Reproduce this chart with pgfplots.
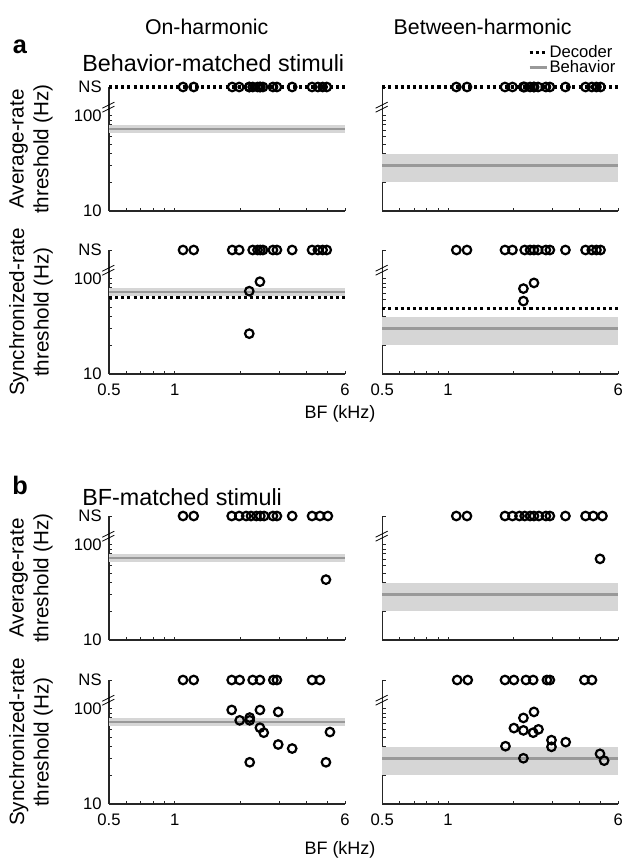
\documentclass[border=0pt]{standalone}
\usepackage{fontspec}
\setmainfont{Liberation Sans}
\usepackage{pgfplots}
\pgfplotsset{compat=1.18}

\definecolor{bandgray}{HTML}{D6D6D6}
\definecolor{linegray}{HTML}{999999}
\newcommand{\tf}[1]{\mbox{\fontsize{12.5}{14}\selectfont #1}}

\pgfplotsset{
  thrax/.style={
    scale only axis, width=177pt, height=93pt, anchor=south west,
    xmin=0.5, xmax=6, ymin=10, ymax=200,
    axis x line*=bottom, axis y line*=left,
    axis line style={line width=0.9pt, black!85},
    xtick={0.5,1,6}, minor xtick={0.6,0.7,0.8,0.9,2,3,4,5},
    ytick={10,100,200}, minor ytick={20,30,40,50,60,70,80,90},
    yticklabels={\tf{10},\tf{100},\tf{NS}}, xticklabels={},
    tick align=inside, major tick length=2.5pt, minor tick length=2.5pt,
    tick style={line width=0.7pt, black!85},
    xticklabel style={yshift=-4pt},
    yticklabel style={xshift=-2pt},
    /pgf/number format/assume math mode=true,
    clip=false,
  },
  thrbot/.style={xticklabels={\tf{0.5},\tf{1},\tf{6}}},
  thrright/.style={yticklabels={}},
}
\tikzset{
  behband/.style={draw=none, fill=bandgray},
  behline/.style={linegray, line width=2.2pt},
  decline/.style={black, line width=2.3pt, dash pattern=on 2.3pt off 2.3pt},
  cellpts/.style={only marks, mark=o, mark size=3.2pt, black, mark options={line width=1.65pt}},
}
\newcommand{\brk}{\draw[line width=0.6pt] (axis cs:0.5,118) ++(-5pt,-2.5pt) -- ++(9pt,4.5pt);
  \draw[line width=0.6pt] (axis cs:0.5,118) ++(-5pt,0.5pt) -- ++(9pt,4.5pt);}
\newcommand{\onbeh}{\addplot[behband, forget plot] coordinates {(0.5,66) (6,66) (6,80) (0.5,80)} -- cycle;
  \addplot[behline, forget plot] coordinates {(0.5,72.5) (6,72.5)};}
\newcommand{\btbeh}{\addplot[behband, forget plot] coordinates {(0.5,20) (6,20) (6,40) (0.5,40)} -- cycle;
  \addplot[behline, forget plot] coordinates {(0.5,30) (6,30)};}

\begin{document}
\begin{tikzpicture}
\path[use as bounding box] (0,0) rectangle (466.5pt,-647.25pt);

% ---------- a: behavior-matched ----------
\begin{axis}[xmode=log, ymode=log, thrax, at={(81.75pt,-158.25pt)}]
\onbeh
\addplot[decline, forget plot] coordinates {(0.5,200) (6,200)};
\addplot[cellpts, forget plot] coordinates {(1.09,200) (1.22,200) (1.83,200) (1.97,200) (2.19,200) (2.19,200)
  (2.27,200) (2.39,200) (2.45,200) (2.46,200) (2.53,200) (2.81,200) (2.93,200) (3.44,200)
  (4.24,200) (4.51,200) (4.74,200) (4.95,200)};
\brk
\end{axis}

\begin{axis}[xmode=log, ymode=log, thrax, thrright, at={(286.7pt,-158.25pt)},
  legend style={at={(1,1)}, anchor=south east, xshift=-1pt, yshift=8pt, draw=none, fill=none,
    font=\fontsize{12.5}{13.5}\selectfont, inner sep=0pt, row sep=-1.5pt,
    nodes={inner sep=1pt}},
  legend cell align=left,
  legend image code/.code={\draw[#1] (0cm,0cm) -- (0.45cm,0cm);}]
\addlegendimage{decline}
\addlegendentry{Decoder}
\addlegendimage{behline}
\addlegendentry{Behavior}
\btbeh
\addplot[decline, forget plot] coordinates {(0.5,200) (6,200)};
\addplot[cellpts, forget plot] coordinates {(1.09,200) (1.22,200) (1.82,200) (1.97,200) (2.21,200) (2.21,200)
  (2.24,200) (2.37,200) (2.47,200) (2.47,200) (2.58,200) (2.80,200) (2.92,200) (3.44,200)
  (4.25,200) (4.54,200) (4.77,200) (4.98,200)};
\brk
\end{axis}

\begin{axis}[xmode=log, ymode=log, thrax, thrbot, at={(81.75pt,-280.5pt)}]
\onbeh
\addplot[decline, forget plot] coordinates {(0.5,64) (6,64)};
\addplot[cellpts, forget plot] coordinates {(1.09,200) (1.22,200) (1.83,200) (1.97,200) (2.27,200) (2.39,200)
  (2.46,200) (2.53,200) (2.81,200) (2.93,200) (3.44,200) (4.24,200) (4.51,200) (4.74,200)
  (4.95,200)};
\addplot[cellpts, forget plot] coordinates {(2.19,74) (2.45,93) (2.19,26.5)};
\brk
\end{axis}

\begin{axis}[xmode=log, ymode=log, thrax, thrbot, thrright, at={(286.7pt,-280.5pt)}]
\btbeh
\addplot[decline, forget plot] coordinates {(0.5,48.4) (6,48.4)};
\addplot[cellpts, forget plot] coordinates {(1.09,200) (1.22,200) (1.82,200) (1.97,200) (2.24,200) (2.37,200)
  (2.47,200) (2.58,200) (2.80,200) (2.92,200) (3.44,200) (4.25,200) (4.54,200) (4.77,200)
  (4.98,200)};
\addplot[cellpts, forget plot] coordinates {(2.21,78.7) (2.47,90.3) (2.21,58.2)};
\brk
\end{axis}

% ---------- b: BF-matched ----------
\begin{axis}[xmode=log, ymode=log, thrax, at={(81.75pt,-480pt)}]
\onbeh
\addplot[cellpts, forget plot] coordinates {(1.09,200) (1.22,200) (1.82,200) (1.97,200) (2.12,200) (2.23,200)
  (2.36,200) (2.46,200) (2.56,200) (2.81,200) (2.93,200) (3.44,200) (4.24,200) (4.61,200)
  (5.01,200)};
\addplot[cellpts, forget plot] coordinates {(4.91,43)};
\brk
\end{axis}

\begin{axis}[xmode=log, ymode=log, thrax, thrright, at={(286.7pt,-480pt)}]
\btbeh
\addplot[cellpts, forget plot] coordinates {(1.09,200) (1.22,200) (1.82,200) (1.97,200) (2.12,200) (2.24,200)
  (2.37,200) (2.47,200) (2.60,200) (2.80,200) (2.92,200) (3.44,200) (4.25,200) (4.61,200)
  (5.08,200)};
\addplot[cellpts, forget plot] coordinates {(4.95,71)};
\brk
\end{axis}

\begin{axis}[xmode=log, ymode=log, thrax, thrbot, at={(81.75pt,-603pt)}]
\onbeh
\addplot[cellpts, forget plot] coordinates {(1.09,200) (1.22,200) (1.82,200) (1.98,200) (2.27,200) (2.45,200)
  (2.82,200) (2.93,200) (4.24,200) (4.61,200)};
\addplot[cellpts, forget plot] coordinates {(1.82,97) (1.98,75.5) (2.2,80.7) (2.2,75.5) (2.45,97) (2.45,63.2)
  (2.55,56) (2.97,92.5) (2.97,42.1) (3.44,38.2) (2.2,27.4) (4.91,27.4) (5.12,56.9)};
\brk
\end{axis}

\begin{axis}[xmode=log, ymode=log, thrax, thrbot, thrright, at={(286.7pt,-603pt)}]
\btbeh
\addplot[cellpts, forget plot] coordinates {(1.10,200) (1.23,200) (1.82,200) (2.0,200) (2.27,200) (2.45,200)
  (2.83,200) (2.92,200) (4.20,200) (4.55,200)};
\addplot[cellpts, forget plot] coordinates {(1.83,40.4) (2.0,62.6) (2.21,80) (2.21,59.2) (2.21,30.2) (2.47,92.5)
  (2.45,56) (2.59,60.7) (2.97,46.8) (2.97,39.8) (3.45,44.6) (4.95,33.6) (5.17,28.5)};
\brk
\end{axis}

% ---------- text ----------
\node[font=\fontsize{16}{17}\selectfont] at (155pt,-20.25pt) {On-harmonic};
\node[font=\fontsize{16}{17}\selectfont] at (362pt,-20.25pt) {Between-harmonic};
\node[font=\fontsize{19}{20}\selectfont\bfseries] at (15pt,-35.25pt) {a};
\node[font=\fontsize{17.5}{19}\selectfont, anchor=west, inner sep=0pt] at (61.5pt,-47.25pt) {Behavior-matched stimuli};
\node[font=\fontsize{19}{20}\selectfont\bfseries] at (15pt,-363.75pt) {b};
\node[font=\fontsize{17.5}{19}\selectfont, anchor=west, inner sep=0pt] at (61.5pt,-372.75pt) {BF-matched stimuli};

\foreach \yc/\lab in {-111.75/Average-rate, -234/Synchronized-rate, -433.5/Average-rate, -556.5/Synchronized-rate}
  \node[rotate=90, align=center, font=\fontsize{15.5}{18.5}\selectfont] at (23.25pt,\yc pt) {\lab\\threshold (Hz)};

\node[font=\fontsize{13.5}{15}\selectfont] at (255pt,-310.5pt) {BF (kHz)};
\node[font=\fontsize{13.5}{15}\selectfont] at (255pt,-637.5pt) {BF (kHz)};
\end{tikzpicture}
\end{document}
